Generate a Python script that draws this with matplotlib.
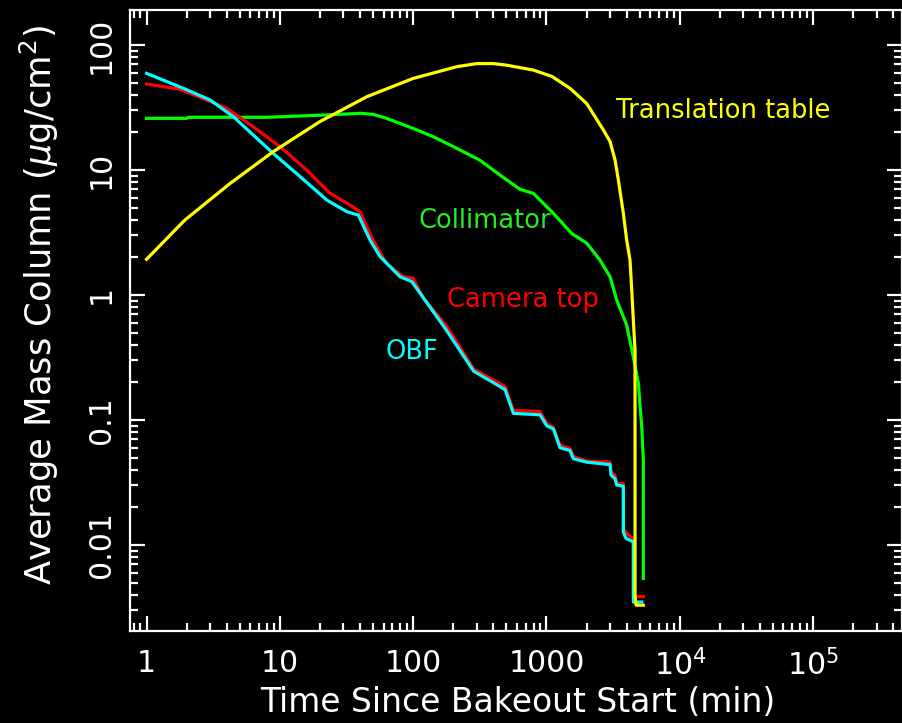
import matplotlib
matplotlib.use("Agg")
import matplotlib.pyplot as plt
from matplotlib.ticker import FixedLocator, FixedFormatter, LogLocator, NullFormatter

# Time since bakeout start (min) and average mass column (ug/cm^2) per component
trans_t = [1, 1.94, 4.23, 8.9, 20, 45, 100, 212, 300, 400, 500, 798, 1100, 1503, 2005,
           2673, 3000, 3273, 3465, 3776, 4000, 4237, 4365, 4486, 4620, 4620, 4700, 5330]
trans_m = [1.93, 3.98, 7.8, 14, 24.4, 38.6, 54, 67, 71, 71, 69, 63, 56, 45, 34,
           20.9, 16.9, 12, 8.3, 4.5, 2.75, 1.9, 1.1, 0.63, 0.36, 0.0039, 0.0033, 0.0033]

coll_t = [1, 2.0, 2.05, 8, 12.6, 21.2, 40, 50, 63, 79.4, 100, 141, 200, 316, 449, 634, 798,
          1127, 1549, 2005, 2524, 3000, 3365, 4000, 4120, 4486, 4900, 5040, 5190, 5330, 5330]
coll_m = [25.9, 25.9, 26.4, 26.4, 26.9, 27.5, 28.4, 27.9, 25.9, 23.6, 21.5, 18.5, 15.4, 12, 9.1, 7.0,
          6.5, 4.5, 3.1, 2.6, 1.9, 1.4, 0.91, 0.575, 0.49, 0.32, 0.196, 0.128, 0.0885, 0.048, 0.0054]

cam_t = [1, 1.78, 2.83, 4.0, 6.3, 10, 15.9, 23.8, 33.6, 40, 50, 63, 84.5, 100, 119, 179,
         285, 300, 490, 565, 895, 1005, 1127, 1264, 1503, 1592, 2005, 3000, 3050, 3270,
         3365, 3776, 3776, 4120, 4486, 4490, 5330]
cam_m = [48.8, 44.2, 36.3, 31.1, 22.2, 15.4, 10, 6.5, 5.25, 4.6, 2.75, 1.79, 1.4, 1.36, 0.95, 0.56,
         0.255, 0.248, 0.185, 0.119, 0.117, 0.094, 0.087, 0.063, 0.059, 0.051, 0.047, 0.046, 0.038, 0.036,
         0.031, 0.031, 0.0135, 0.012, 0.0112, 0.00386, 0.00386]

obf_t = [1, 1.89, 3.0, 4.48, 8.9, 14.2, 22.5, 31.8, 38.8, 47.5, 56.5, 79.7, 97.7, 174,
         285, 300, 490, 565, 895, 1005, 1127, 1264, 1503, 1592, 2005, 3000, 3050, 3270,
         3365, 3776, 3776, 3950, 4486, 4490, 5200]
obf_m = [59.3, 45, 36.3, 26.7, 13.6, 8.85, 5.75, 4.64, 4.36, 2.75, 2.03, 1.4, 1.28, 0.54,
         0.245, 0.238, 0.175, 0.113, 0.110, 0.090, 0.085, 0.060, 0.057, 0.049, 0.046, 0.044, 0.0363, 0.034,
         0.0302, 0.0295, 0.0127, 0.0113, 0.0106, 0.0035, 0.0035]

x_ticks = [1, 10, 100, 1000, 1e4, 1e5]
x_tick_labels = ["1", "10", "100", "1000", "$10^4$", "$10^5$"]
y_ticks = [0.01, 0.1, 1, 10, 100]
y_tick_labels = ["0.01", "0.1", "1", "10", "100"]

plt.rcParams["font.family"] = ["DejaVu Sans"]
plt.rcParams["mathtext.fontset"] = "dejavusans"

W, H = 902, 723
fig = plt.figure(figsize=(W / 100, H / 100), dpi=100, facecolor="black")
left, right, top, bottom = 129.5, 902, 10, 631.3
ax = fig.add_axes([left / W, 1 - bottom / H, (right - left) / W, (bottom - top) / H])
ax.set_facecolor("black")

lw = 2.3
ax.plot(coll_t, coll_m, color="#00ff00", lw=lw, zorder=2)
ax.plot(cam_t, cam_m, color="#ff0000", lw=lw, zorder=3)
ax.plot(obf_t, obf_m, color="#00ffff", lw=lw, zorder=4)
ax.plot(trans_t, trans_m, color="#ffff00", lw=lw, zorder=5)

ax.set_xscale("log")
ax.set_yscale("log")
ax.set_xlim(0.745, 4.65e5)
ax.set_ylim(0.00204, 190.5)

ax.xaxis.set_major_locator(FixedLocator(x_ticks))
ax.xaxis.set_major_formatter(FixedFormatter(x_tick_labels))
ax.yaxis.set_major_locator(FixedLocator(y_ticks))
ax.yaxis.set_major_formatter(FixedFormatter(y_tick_labels))
ax.xaxis.set_minor_locator(LogLocator(base=10, subs=range(2, 10), numticks=20))
ax.yaxis.set_minor_locator(LogLocator(base=10, subs=range(2, 10), numticks=20))
ax.xaxis.set_minor_formatter(NullFormatter())
ax.yaxis.set_minor_formatter(NullFormatter())

ax.tick_params(which="both", direction="in", top=True, right=True, colors="white",
               labelcolor="white", width=1.6)
ax.tick_params(which="major", length=11, labelsize=21.5)
ax.tick_params(which="minor", length=5.5)
ax.tick_params(axis="x", which="major", pad=13)
ax.tick_params(axis="y", which="major", pad=10)
for lab in ax.get_yticklabels():
    lab.set_rotation(90)
    lab.set_va("center")

for sp in ax.spines.values():
    sp.set_color("white")
    sp.set_linewidth(1.6)

ax.set_xlabel("Time Since Bakeout Start (min)", color="white", fontsize=23.7)
ax.set_ylabel("Average Mass Column ($\\mu$g/cm$^2$)", color="white", fontsize=25.5)
ax.xaxis.set_label_coords(0.502, -0.088)
ax.yaxis.set_label_coords(-0.089, 0.525)

label_fs = 18.5
ax.annotate("Translation table", xy=(723 / W, 1 - 111 / H), xycoords="figure fraction",
            color="#ffff00", fontsize=label_fs, ha="center", va="center")
ax.annotate("Collimator", xy=(485 / W, 1 - 221 / H), xycoords="figure fraction",
            color="#22ee22", fontsize=label_fs, ha="center", va="center")
ax.annotate("Camera top", xy=(523 / W, 1 - 300 / H), xycoords="figure fraction",
            color="#ff0000", fontsize=label_fs, ha="center", va="center")
ax.annotate("OBF", xy=(412 / W, 1 - 352 / H), xycoords="figure fraction",
            color="#00ffff", fontsize=label_fs, ha="center", va="center")

fig.savefig("out.png", dpi=100, facecolor="black")
